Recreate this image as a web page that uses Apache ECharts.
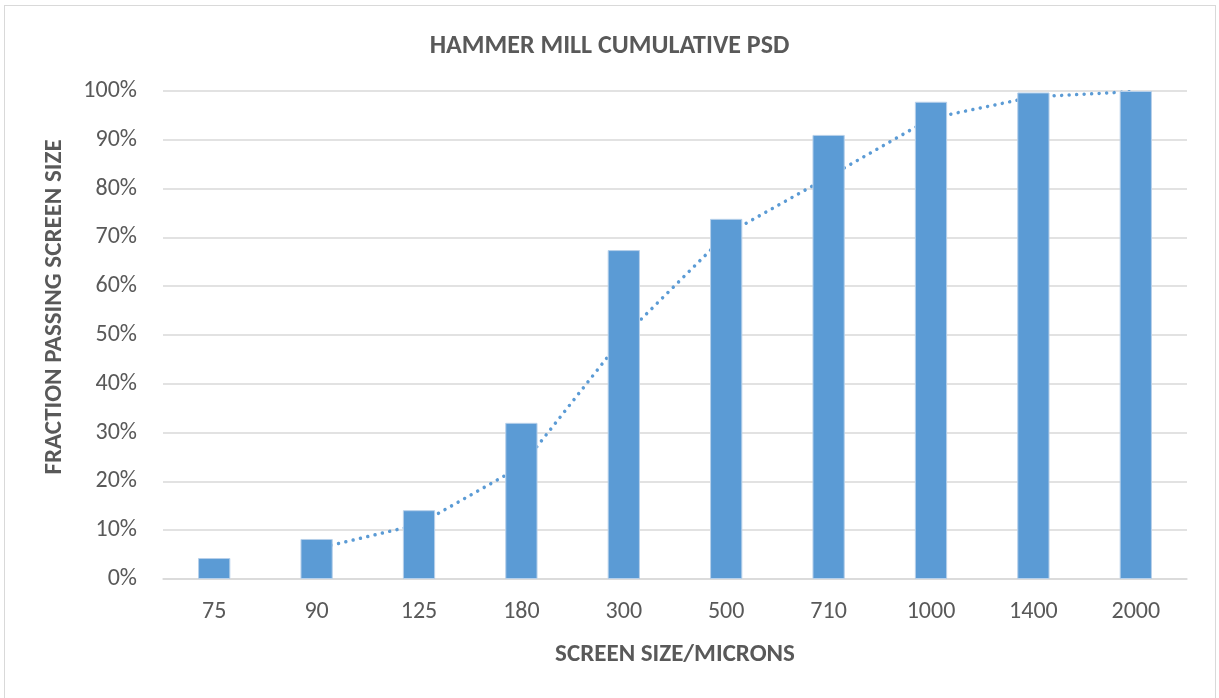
<!DOCTYPE html>
<html>
<head>
<meta charset="utf-8">
<script src="https://cdn.jsdelivr.net/npm/echarts@6/dist/echarts.min.js"></script>
<style>
  html, body { margin: 0; padding: 0; background: #fff; }
  #wrap { position: relative; width: 1219px; height: 698px; overflow: hidden; }
  #frame { position: absolute; left: 4px; top: 5px; width: 1212px; height: 720px; border: 1.5px solid #d9d9d9; box-sizing: border-box; }
  #chart { position: absolute; left: 0; top: 0; width: 1219px; height: 698px; }
</style>
</head>
<body>
<div id="wrap">
  <div id="frame"></div>
  <div id="chart"></div>
</div>
<script>
// Screen sizes (microns) and cumulative fraction passing (%)
const screenSizes = ['75', '90', '125', '180', '300', '500', '710', '1000', '1400', '2000'];
const fractionPassing = [4.3, 8.2, 14.1, 32.0, 67.4, 73.8, 91.0, 97.8, 99.7, 100.0];
// Two-period moving average trend (no value at the first size)
const trendValues = [null, 6.2, 11.2, 23.1, 49.7, 70.6, 82.4, 94.4, 98.8, 99.9];
const yTicks = [0, 10, 20, 30, 40, 50, 60, 70, 80, 90, 100];

const FONT = 'Carlito, Lato, "Liberation Sans Narrow", sans-serif';
const TEXT = '#595959';
const BLUE = '#5b9bd5';

const chart = echarts.init(document.getElementById('chart'), null, { renderer: 'canvas' });
chart.setOption({
  backgroundColor: 'transparent',
  animation: false,
  title: {
    text: 'HAMMER MILL CUMULATIVE PSD',
    left: 'center',
    top: 28,
    textStyle: { fontFamily: FONT, fontSize: 26, fontWeight: 'bold', color: TEXT }
  },
  grid: { left: 163, right: 32, top: 91, bottom: 119 },
  xAxis: {
    type: 'category',
    data: screenSizes,
    name: 'SCREEN SIZE/MICRONS',
    nameLocation: 'middle',
    nameGap: 63,
    nameTextStyle: { fontFamily: FONT, fontSize: 25, fontWeight: 'bold', color: TEXT },
    axisLine: { show: true, lineStyle: { color: '#d9d9d9', width: 1.5 } },
    axisTick: { show: false },
    axisLabel: { fontFamily: FONT, fontSize: 24, color: TEXT, margin: 21 }
  },
  yAxis: {
    type: 'value',
    min: yTicks[0],
    max: yTicks[yTicks.length - 1],
    interval: 10,
    name: 'FRACTION PASSING SCREEN SIZE',
    nameLocation: 'middle',
    nameGap: 96,
    nameRotate: 90,
    nameTextStyle: { fontFamily: FONT, fontSize: 25, fontWeight: 'bold', color: TEXT, padding: [0, 0, 0, 56] },
    axisLine: { show: false },
    axisTick: { show: false },
    splitLine: { lineStyle: { color: '#d9d9d9', width: 1.5 } },
    axisLabel: { fontFamily: FONT, fontSize: 24, color: TEXT, margin: 26, formatter: '{value}%' }
  },
  series: [
    {
      name: 'Trend',
      type: 'line',
      data: trendValues,
      symbol: 'none',
      smooth: false,
      lineStyle: { color: BLUE, width: 3.5, type: [0.01, 7.5], cap: 'round' },
      z: 1
    },
    {
      name: 'Fraction passing',
      type: 'bar',
      data: fractionPassing,
      barWidth: '31.5%',
      itemStyle: { color: BLUE, borderColor: '#b7d0ea', borderWidth: 1 },
      z: 2
    }
  ]
});
</script>
</body>
</html>
